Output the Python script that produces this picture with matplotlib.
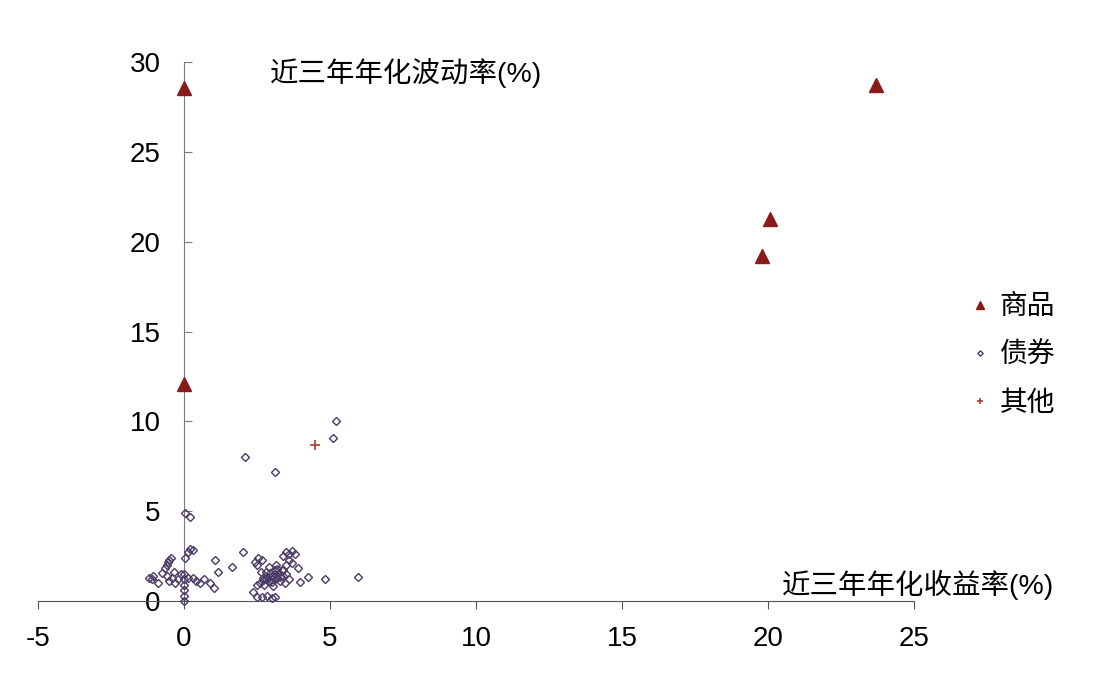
import matplotlib
matplotlib.use("Agg")
import matplotlib.pyplot as plt

plt.rcParams['font.family'] = ['Liberation Sans', 'Noto Sans CJK SC', 'DejaVu Sans']
plt.rcParams['axes.unicode_minus'] = False

# 商品
commodity_x = [0.0, 0.0, 19.8, 20.05, 23.7]
commodity_y = [28.55, 12.1, 19.2, 21.25, 28.7]

# 其他
other_x = [4.5]
other_y = [8.7]

# 债券
bond_x = [-1.2, -1.1, -1.05, -0.9,
          -0.65, -0.6, -0.55, -0.5, -0.45,
          -0.75, -0.6, -0.5, -0.4, -0.35, -0.3, -0.2, -0.1,
          0.0, 0.0, 0.0, 0.0, 0.0, 0.0, 0.05, 0.15, 0.3, 0.2,
          0.05, 0.2,
          0.15, 0.3, 0.4, 0.55, 0.7, 0.9, 1.03, 1.06, 1.16, 1.64, 2.02,
          2.43, 2.55, 2.67, 2.5,
          2.6, 2.7, 2.8, 2.9, 3.0, 3.1, 3.2, 3.3, 3.4, 2.75, 2.9, 3.05, 3.2, 3.35,
          2.95, 3.15, 2.65, 3.45, 3.5, 3.6,
          2.85, 3.0, 3.1, 3.25, 3.0, 2.8, 3.1, 3.3, 2.7, 3.4,
          3.4, 3.5, 3.6, 3.7, 3.8, 3.6, 3.7, 3.9, 3.5,
          3.97, 4.25, 4.83, 5.96,
          2.36, 2.5, 2.67, 2.85, 3.0, 3.1, 2.5,
          2.1, 3.1, 5.1, 5.2]
bond_y = [1.3, 1.2, 1.4, 1.0,
          1.85, 2.0, 2.15, 2.3, 2.4,
          1.55, 1.4, 1.1, 1.3, 1.6, 1.0, 1.2, 1.5,
          1.2, 0.9, 0.6, 1.5, 0.3, 0.0, 2.4, 2.7, 2.85, 2.9,
          4.9, 4.7,
          1.3, 1.28, 1.1, 1.0, 1.2, 1.0, 0.75, 2.3, 1.6, 1.9, 2.7,
          2.17, 2.4, 2.28, 2.0,
          1.0, 1.3, 1.6, 1.9, 1.2, 1.5, 1.8, 1.1, 1.4, 0.9, 1.1, 0.85, 1.3, 1.7,
          1.55, 2.0, 1.6, 1.0, 1.5, 1.2,
          1.35, 1.4, 1.7, 1.55, 1.05, 1.2, 1.25, 1.35, 1.15, 1.75,
          2.5, 2.7, 2.6, 2.8, 2.6, 2.3, 2.1, 1.85, 2.0,
          1.06, 1.34, 1.22, 1.34,
          0.5, 0.25, 0.22, 0.3, 0.17, 0.25, 0.9,
          8.0, 7.2, 9.1, 10.0]

fig = plt.figure(figsize=(10.96, 6.96), dpi=100)
ax = fig.add_axes([0.0347, 0.1365, 0.7993, 0.7744])

ax.plot(commodity_x, commodity_y, linestyle='none', marker='^', ms=10,
        color='#8b1a1a', label='商品', clip_on=False, zorder=4)
ax.plot(bond_x, bond_y, linestyle='none', marker='D', ms=4.5, mfc='none',
        mec='#4b3b66', mew=1.0, label='债券', clip_on=False, zorder=3)
ax.plot(other_x, other_y, linestyle='none', marker='+', ms=7, mew=1.2,
        color='#b03a2e', label='其他', clip_on=False, zorder=4)

ax.set_xlim(-5, 25)
ax.set_ylim(0, 30)
ax.set_xticks([-5, 0, 5, 10, 15, 20, 25])
ax.set_yticks([0, 5, 10, 15, 20, 25, 30])

ax.spines['left'].set_position(('data', 0))
ax.spines['bottom'].set_position(('data', 0))
ax.spines['right'].set_visible(False)
ax.spines['top'].set_visible(False)
ax.spines['left'].set_color('#7d7490')
ax.spines['bottom'].set_color('#555555')

ax.tick_params(axis='y', direction='in', length=6, color='#7d7490', pad=17, labelsize=20)
ax.tick_params(axis='x', direction='out', length=6, color='#555555', pad=12, labelsize=20)

fig.text(0.246, 0.895, '近三年年化波动率(%)', fontsize=20.5, va='center', ha='left')
fig.text(0.7135, 0.1595, '近三年年化收益率(%)', fontsize=20.5, va='center', ha='left')

fig.legend(loc='upper left', bbox_to_anchor=(0.864, 0.613), frameon=False,
           fontsize=20, handlelength=0.6, handletextpad=0.4, labelspacing=0.8,
           markerscale=0.6)

fig.savefig('out.png', dpi=100)
